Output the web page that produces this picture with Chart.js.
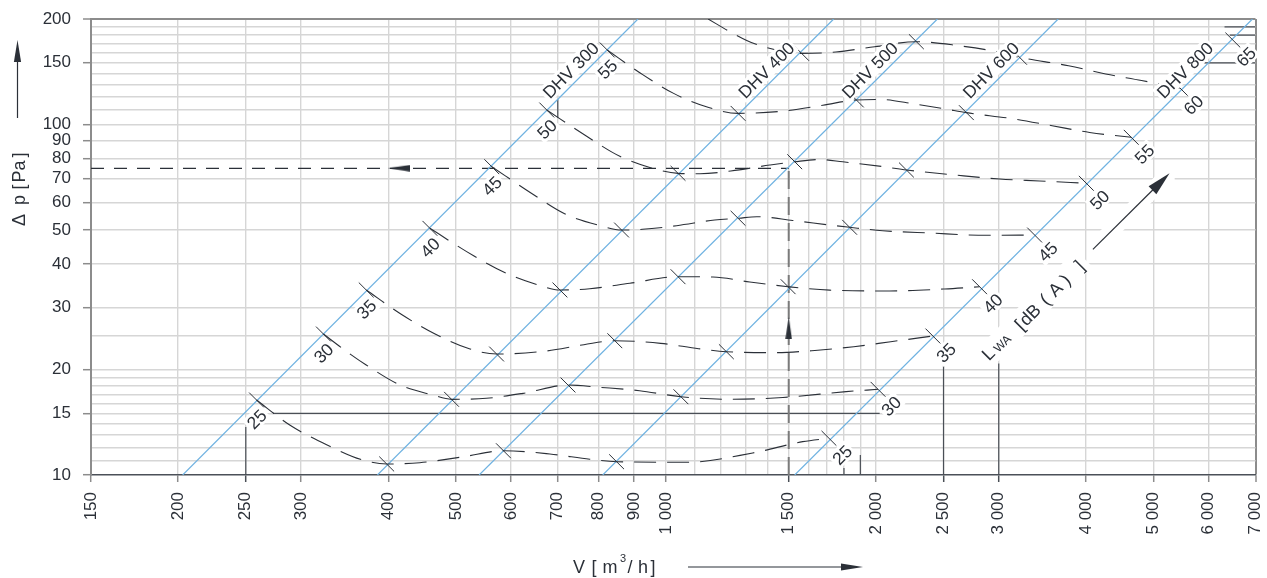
<!DOCTYPE html>
<html><head><meta charset="utf-8">
<script src="https://cdn.jsdelivr.net/npm/chart.js@4.4.1/dist/chart.umd.min.js"></script>
<style>html,body{margin:0;padding:0;background:#fff;overflow:hidden}canvas{display:block}</style>
</head><body>
<canvas id="chart" width="1267" height="578"></canvas>
<script>
// ---------- axis ticks ----------
const xGrid = [150,200,250,300,400,500,600,700,800,900,1000,1100,1200,1300,1400,1500,1600,1700,1800,1900,2000,2500,3000,4000,5000,6000,7000];
const xTickValues = [150,200,250,300,400,500,600,700,800,900,1000,1500,2000,2500,3000,4000,5000,6000,7000];
const xTickLabels = ['150','200','250','300','400','500','600','700','800','900','1 000','1 500','2 000','2 500','3 000','4 000','5 000','6 000','7 000'];
const yGrid = [10,11,12,13,14,15,16,17,18,19,20,25,30,40,50,60,70,80,90,100,110,120,130,140,150,160,170,180,190,200];
const yTickValues = [10,15,20,30,40,50,60,70,80,90,100,150,200];
const yTickLabels = ['10','15','20','30','40','50','60','70','80','90','100','150','200'];

// ---------- duct lines (V m3/h, dp Pa) ----------
const dhvNames = ['DHV 300','DHV 400','DHV 500','DHV 600','DHV 800'];
const dhvStart = [[203,10],[386,10],[540,10],[812,10],[1530,10]];
const dhvEnd   = [[912,200],[1740,200],[2450,200],[3650,200],[6930,200]];

// ---------- sound power level curves L_WA dB(A) ----------
const levels = ['25','30','35','40','45','50','55','60','65'];
// points where a level curve crosses a duct line (tick marks)
const cross25 = [[259,16.37],[398,10.75],[585,11.73],[850,10.91],[1713,12.73]];
const cross30 = [[323,25.25],[493,16.44],[724,18.06],[1051,16.72],[2014,17.56]];
const cross35 = [[372,33.72],[572,22.14],[845,24.16],[1221,22.48],[2414,24.92]];
const cross40 = [[459,50.56],[705,33.72],[1041,36.79],[1497,34.45],[2816,34.45]];
const cross45 = [[563,75.79],[864,50.0],[1269,54.02],[1834,50.9],[3377,48.38]];
const cross50 = [[675,110.0],[1041,72.56],[1530,78.31],[2212,74.18],[4005,67.97]];
const cross55 = [[824,163.2],[1269,107.6],[1875,117.5],[2696,108.1],[4645,91.94]];
const cross60 = [[1565,159.6],[2286,172.3],[3213,155.5],[5460,126.9]];
const cross65 = [[6495,174.2]];
// further points read along each curve between the crossings
const mid25 = [[289,13.89],[327,12.18],[368,11.03],[444,10.84],[512,11.27],[682,11.48],[778,11.09],[1070,10.87],[1332,11.56],[1571,12.45]];
const mid30 = [[349,22.48],[372,20.6],[416,18.06],[463,16.92],[553,16.55],[624,17.1],[804,17.79],[917,17.4],[1235,16.44],[1471,16.64],[1813,17.29]];
const mid35 = [[417,28.8],[467,25.25],[524,22.88],[673,22.58],[763,23.54],[983,23.75],[1114,22.93],[1432,22.34],[1635,22.66],[1859,23.23],[2100,24.0]];
const mid40 = [[531,42.15],[594,37.45],[660,34.73],[778,34.0],[888,35.24],[1168,36.72],[1319,35.53],[1717,33.68],[2093,33.5],[2509,33.94]];
const mid45 = [[644,63.36],[716,55.63],[804,51.5],[926,50.23],[1036,51.44],[1175,53.41],[1350,54.58],[1520,53.23],[1717,51.67],[2046,49.77],[2388,49.02],[2883,48.29]];
const mid50 = [[770,92.55],[859,81.17],[967,74.57],[1119,72.37],[1239,73.67],[1409,76.63],[1662,79.45],[1793,78.26],[2052,75.79],[2621,71.63],[3009,69.9],[3433,69.0]];
const mid55 = [[920,140.0],[1026,122.7],[1152,111.8],[1466,109.1],[1679,113.5],[2025,117.9],[2273,114.4],[2509,110.9],[3141,103.9],[3578,99.2],[4049,94.9]];
const mid60 = [[1150,200],[1247,182.1],[1341,169.9],[1752,161.0],[1992,166.7],[2637,167.7],[2959,161.8],[3777,147.1],[4269,139.4],[4806,133.5]];
const mid65 = [];
const leftLabelled = ['25','30','35','40','45','50','55'];

// ---------- reading example ----------
const exampleFlow = 1500;
const examplePressure = 75;
// short reference lines (solid)
const refLines = [
  [[250,10],[250,13.7]], [[273.5,15],[2025,15]], [[2500,10],[2500,20.8]], [[3000,10],[3000,20.8]],
  [[1800,10],[1800,10.47]], [[1900,10],[1900,11.4]], [[700,104.5],[700,118]],
  [[6320,190],[7000,190]], [[6430,180],[7000,180]], [[5915,150],[7000,150]]
];
const lwaAnchor = [2895, 22.25];
const lwaArrowFrom = [4093, 44.05];
const lwaArrowTo = [5271, 72.56];

// ---------- styling ----------
const FONT = '"Liberation Sans", Arial, sans-serif';
const FS = 17;
const DARK = '#2b3038';
const BLUE = '#6fb2e1';
const GRID = '#d6d6d6';
const FRAME = '#8c8c8c';
const TRANSP = 'rgba(0,0,0,0)';

function arrowImg(len, h){
  const c = document.createElement('canvas'); c.width = len; c.height = h;
  const g = c.getContext('2d'); g.fillStyle = DARK;
  g.beginPath(); g.moveTo(len, h/2); g.lineTo(0, 0.3); g.lineTo(0, h-0.3); g.closePath(); g.fill();
  return c;
}
const arrowPic = arrowImg(22, 7);

const pts = arr => arr.map(([x,y]) => ({x, y}));
const crossings = [cross25,cross30,cross35,cross40,cross45,cross50,cross55,cross60,cross65];
const mids = [mid25,mid30,mid35,mid40,mid45,mid50,mid55,mid60,mid65];

const datasets = [];
datasets.push({ label:'ticks', data: pts(crossings.flat()), showLine:false, pointStyle:'line', rotation:45,
  pointRadius:10.5, pointBorderWidth:1, pointBorderColor:DARK, pointBackgroundColor:DARK, order:0 });
datasets.push({ label:'arrows', data: [{x:414, y:examplePressure},{x:exampleFlow, y:26.3}], showLine:false,
  pointStyle: arrowPic, rotation: [180, 270], pointRadius: 6, order:0 });
levels.forEach((lv, i) => {
  const all = crossings[i].concat(mids[i]).sort((a,b) => a[0]-b[0]);
  if (all.length > 1) datasets.push({ label:'L '+lv, data: pts(all), showLine:true, borderColor:DARK, borderWidth:1.1,
    borderDash:[22,11], pointRadius:0, tension:0.4, cubicInterpolationMode:'monotone', order:1 });
});
dhvNames.forEach((n, i) => {
  datasets.push({ label:n, data: pts([dhvStart[i], dhvEnd[i]]), showLine:true, borderColor:BLUE, borderWidth:1.2, pointRadius:0, order:2 });
});
datasets.push({ label:'dp read', data: pts([[150,examplePressure],[exampleFlow,examplePressure]]), showLine:true, borderColor:DARK,
  borderWidth:1.2, borderDash:[13,10], pointRadius:0, order:3 });
datasets.push({ label:'V read', data: pts([[exampleFlow,10],[exampleFlow,examplePressure]]), showLine:true, borderColor:'#7b7b7b',
  borderWidth:2, borderDash:[18,8], pointRadius:0, order:3 });
refLines.forEach((l, i) => {
  datasets.push({ label:'ref'+i, data: pts(l), showLine:true, borderColor:'#4a4f56', borderWidth:1.2, pointRadius:0, order:3 });
});

function boxedText(ctx, text, cx, cy, ang, size){
  ctx.save();
  ctx.translate(cx, cy); ctx.rotate(ang);
  ctx.font = size + 'px ' + FONT;
  const w = ctx.measureText(text).width, h = size*0.72;
  ctx.fillStyle = '#fff';
  ctx.fillRect(-w/2-2, -h/2-2.5, w+4, h+5);
  ctx.fillStyle = DARK; ctx.textAlign = 'center'; ctx.textBaseline = 'alphabetic';
  ctx.fillText(text, 0, h/2);
  ctx.restore();
}
function head(ctx, tx, ty, ang, len, half){
  ctx.save(); ctx.translate(tx, ty); ctx.rotate(ang);
  ctx.beginPath(); ctx.moveTo(0,0); ctx.lineTo(-len,-half); ctx.lineTo(-len,half); ctx.closePath();
  ctx.fillStyle = DARK; ctx.fill(); ctx.restore();
}
// draw text pieces along a rotated baseline; each piece: [text, centre offset along baseline, size, shift down]
function pieces(ctx, cx, cy, ang, list){
  ctx.save(); ctx.translate(cx, cy); ctx.rotate(ang);
  ctx.textAlign = 'center'; ctx.textBaseline = 'alphabetic'; ctx.fillStyle = DARK;
  list.forEach(([t, off, size, dy]) => { ctx.font = size + 'px ' + FONT; ctx.fillText(t, off, size*0.36 + dy); });
  ctx.restore();
}

const annot = {
  id: 'annot',
  afterDatasetsDraw(chart){
    const {ctx, chartArea:a} = chart;
    const sx = chart.scales.x, sy = chart.scales.y;
    const px = v => sx.getPixelForValue(v), py = v => sy.getPixelForValue(v);
    // duct labels
    dhvNames.forEach((n, i) => {
      const x1 = px(dhvStart[i][0]), y1 = py(dhvStart[i][1]), x2 = px(dhvEnd[i][0]), y2 = py(dhvEnd[i][1]);
      const ang = Math.atan2(y2-y1, x2-x1);
      const ty = a.top + 51, t = (ty - y1)/(y2 - y1), lx = x1 + t*(x2 - x1);
      boxedText(ctx, n, lx - 16.5, ty, ang, FS + 0.5);
    });
    // level labels
    levels.forEach((lv, i) => {
      const c = crossings[i];
      if (leftLabelled.includes(lv)) boxedText(ctx, lv, px(c[0][0]), py(c[0][1]) + 19, -Math.PI/4, FS + 0.5);
      const last = c[c.length-1];
      boxedText(ctx, lv, px(last[0]) + 13, py(last[1]) + 16.5, -Math.PI/4, FS + 0.5);
    });
    // L_WA arrow
    const ax1 = px(lwaArrowFrom[0]), ay1 = py(lwaArrowFrom[1]), ax2 = px(lwaArrowTo[0]), ay2 = py(lwaArrowTo[1]);
    const aang = Math.atan2(ay2-ay1, ax2-ax1);
    ctx.save();
    ctx.strokeStyle = '#fff'; ctx.lineWidth = 16; ctx.beginPath(); ctx.moveTo(ax1, ay1); ctx.lineTo(ax2, ay2); ctx.stroke();
    ctx.strokeStyle = DARK; ctx.lineWidth = 1.2; ctx.beginPath(); ctx.moveTo(ax1, ay1);
    ctx.lineTo(ax2 - 18*Math.cos(aang), ay2 - 18*Math.sin(aang)); ctx.stroke();
    ctx.restore();
    head(ctx, ax2, ay2, aang, 24, 5.5);
    // L_WA label with white background
    const lx = px(lwaAnchor[0]), ly = py(lwaAnchor[1]);
    ctx.save(); ctx.translate(lx, ly); ctx.rotate(-Math.PI/4);
    ctx.fillStyle = '#fff'; ctx.fillRect(-8, -11, 143, 24);
    ctx.restore();
    pieces(ctx, lx, ly, -Math.PI/4, [
      ['L', 0, FS+1, 0], ['WA', 17, 12, 3], ['[', 42, FS+1, 2], ['dB', 57, FS+1, 2], ['(', 78, FS+1, 2],
      ['A', 93, FS+1, 2], [')', 107, FS+1, 2], [']', 127, FS+1, 2]
    ]);
  },
  afterDraw(chart){
    const {ctx} = chart;
    ctx.save();
    ctx.fillStyle = DARK; ctx.strokeStyle = DARK;
    // y title (reads upwards)
    pieces(ctx, 19, 191, -Math.PI/2, [
      ['\u0394', -29, 18, 0], ['p', -9, 18, 0], ['[', 4, 18, 0], ['Pa', 19.5, 18, 0], [']', 36, 18, 0]
    ]);
    ctx.lineWidth = 1.2;
    ctx.beginPath(); ctx.moveTo(17.5, 118); ctx.lineTo(17.5, 60); ctx.stroke();
    head(ctx, 17.5, 40, -Math.PI/2, 22, 3.6);
    // x title
    pieces(ctx, 0, 567, 0, [
      ['V', 579, 18, 0], ['[', 594, 18, 0], ['m', 610, 18, 0], ['3', 623, 11, -9], ['/', 630, 18, 0], ['h', 643, 18, 0], [']', 653, 18, 0]
    ]);
    ctx.beginPath(); ctx.moveTo(688, 567); ctx.lineTo(845, 567); ctx.stroke();
    head(ctx, 863, 567, 0, 22, 3.6);
    ctx.restore();
  }
};

Chart.defaults.font.family = FONT;
new Chart(document.getElementById('chart'), {
  type: 'scatter',
  data: { datasets },
  options: {
    responsive: false, animation: false, devicePixelRatio: 1, events: [],
    layout: { padding: { top: 19, right: 11, left: 0, bottom: 0 } },
    plugins: { legend: { display:false }, tooltip: { enabled:false } },
    scales: {
      x: {
        type: 'logarithmic', min: 150, max: 7000, position: 'bottom',
        afterBuildTicks: s => { s.ticks = xGrid.map(v => ({value: v})); },
        afterFit: s => { s.height = 103; s.paddingLeft = 0; s.paddingRight = 0; },
        ticks: { autoSkip:false, minRotation:90, maxRotation:90, padding:10, color:DARK, font:{size:FS, family:FONT},
          callback: v => { const i = xTickValues.indexOf(v); return i >= 0 ? xTickLabels[i] : ''; } },
        grid: {
          color: c => { const v = c.tick && c.tick.value; return v === 7000 ? FRAME : (v === 150 ? TRANSP : GRID); },
          lineWidth: c => (c.tick && c.tick.value === 7000) ? 2 : 1.4,
          tickLength: 7, tickWidth: 1.5,
          tickColor: c => { const v = c.tick && c.tick.value; if (!xTickValues.includes(v)) return TRANSP; return [250,2500,3000,1500].includes(v) ? '#4a4f56' : FRAME; }
        },
        border: { color: '#4b5058', width: 1.5 }
      },
      y: {
        type: 'logarithmic', min: 10, max: 200, position: 'left',
        afterBuildTicks: s => { s.ticks = yGrid.map(v => ({value: v})); },
        afterFit: s => { s.width = 91; s.paddingTop = 0; s.paddingBottom = 0; },
        ticks: { autoSkip:false, padding:12, color:DARK, font:{size:FS, family:FONT},
          callback: v => { const i = yTickValues.indexOf(v); return i >= 0 ? yTickLabels[i] : ''; } },
        grid: {
          color: c => { const v = c.tick && c.tick.value; return v === 200 ? FRAME : (v === 10 ? TRANSP : GRID); },
          lineWidth: c => (c.tick && c.tick.value === 200) ? 2 : 1.4,
          tickLength: 8, tickWidth: 1.5,
          tickColor: c => { const v = c.tick && c.tick.value; return yTickValues.includes(v) ? FRAME : TRANSP; }
        },
        border: { color: FRAME, width: 2 }
      }
    }
  },
  plugins: [annot]
});
</script>
</body></html>
